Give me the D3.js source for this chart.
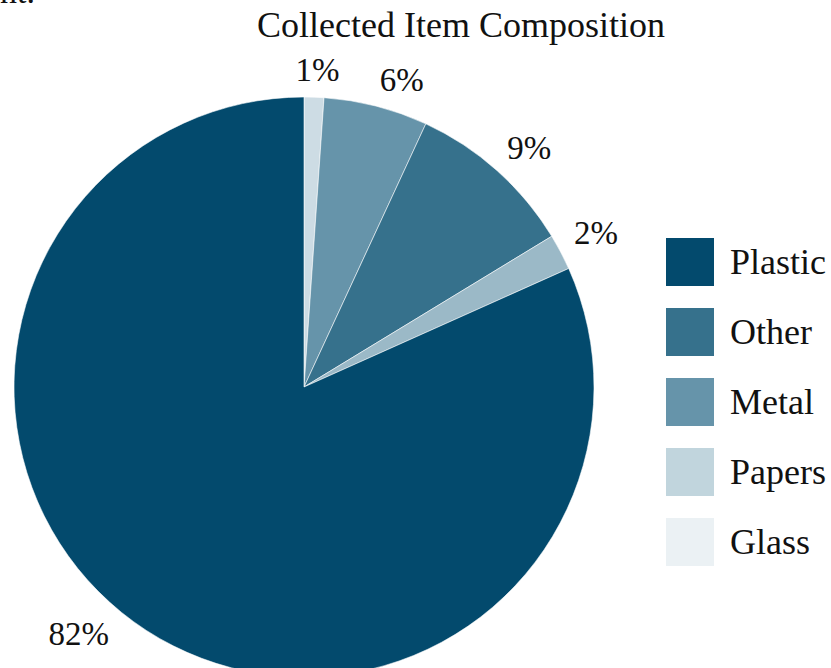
<!DOCTYPE html>
<html>
<head>
<meta charset="utf-8">
<script src="https://cdn.jsdelivr.net/npm/d3@7"></script>
<style>
  html, body { margin: 0; padding: 0; background: #fff; }
  svg { display: block; }
  text { font-family: "Liberation Serif", "DejaVu Serif", serif; fill: #111; }
</style>
</head>
<body>
<svg id="chart" width="831" height="668"></svg>
<script>
// Slices in clockwise order from 12 o'clock
const categories = ["Glass", "Metal", "Other", "Papers", "Plastic"];
const values = [1.1, 5.8, 9.4, 2.0, 81.7];
const sliceColors = ["#cddce4", "#6694aa", "#36718c", "#9bb9c7", "#034a6d"];

// Legend
const legendLabels = ["Plastic", "Other", "Metal", "Papers", "Glass"];
const legendColors = ["#034a6d", "#36718c", "#6694aa", "#c1d5dd", "#ebf1f4"];

const titleText = "Collected Item Composition";

const W = 831, H = 668;
const svg = d3.select("#chart");
const cx = 304, cy = 387, R = 290;

// clipped fragment at top-left
svg.append("text").attr("x", 0).attr("y", 3).attr("font-size", 34).text("nt.");

svg.append("text")
  .attr("x", 461).attr("y", 37)
  .attr("text-anchor", "middle")
  .attr("font-size", 36)
  .text(titleText);

const pie = d3.pie().sort(null).value(d => d.v);
const data = categories.map((c, i) => ({ c, v: values[i], color: sliceColors[i] }));
const arcs = pie(data);
const arc = d3.arc().innerRadius(0).outerRadius(R);

const g = svg.append("g").attr("transform", `translate(${cx},${cy})`);
g.selectAll("path.slice").data(arcs).join("path")
  .attr("class", "slice")
  .attr("d", arc)
  .attr("fill", d => d.data.color)
  .attr("stroke", "#fff")
  .attr("stroke-width", 0.8)
  .attr("stroke-opacity", 0.7);

const total = d3.sum(values);
const fmt = v => Math.round(v / total * 100) + "%";
const labelR = 305;
const lbl = g.selectAll("text.lbl").data(arcs).join("text")
  .attr("class", "lbl")
  .attr("font-size", 33)
  .attr("text-anchor", "middle")
  .attr("dominant-baseline", "central")
  .text(d => fmt(d.data.v));

const maxBottom = H - 22 - cy;
lbl.each(function(d) {
  const bb = this.getBBox();
  const w = bb.width, h = 24;
  let a = (d.startAngle + d.endAngle) / 2;
  const place = ang => {
    const vx = Math.sin(ang), vy = -Math.cos(ang);
    const k = 4;
    const ox = Math.max(-1, Math.min(1, vx * k)) * w / 2;
    const oy = Math.max(-1, Math.min(1, vy * k)) * h / 2;
    return [vx * labelR + ox, vy * labelR + oy];
  };
  let p = place(a);
  // slide the label along the circle until it fits inside the canvas
  let guard = 0;
  while (p[1] + h / 2 > maxBottom && guard < 900) {
    a += (Math.sin(a) < 0 ? 1 : -1) * Math.PI / 900;
    p = place(a);
    guard++;
  }
  d3.select(this).attr("x", p[0]).attr("y", p[1]);
});

const leg = svg.append("g").attr("transform", "translate(666,238)");
const items = leg.selectAll("g").data(legendLabels).join("g")
  .attr("transform", (d, i) => `translate(0,${i * 70})`);
items.append("rect").attr("width", 48).attr("height", 48)
  .attr("fill", (d, i) => legendColors[i]);
items.append("text").attr("x", 64).attr("y", 24)
  .attr("dominant-baseline", "central")
  .attr("font-size", 36)
  .text(d => d);
</script>
</body>
</html>
